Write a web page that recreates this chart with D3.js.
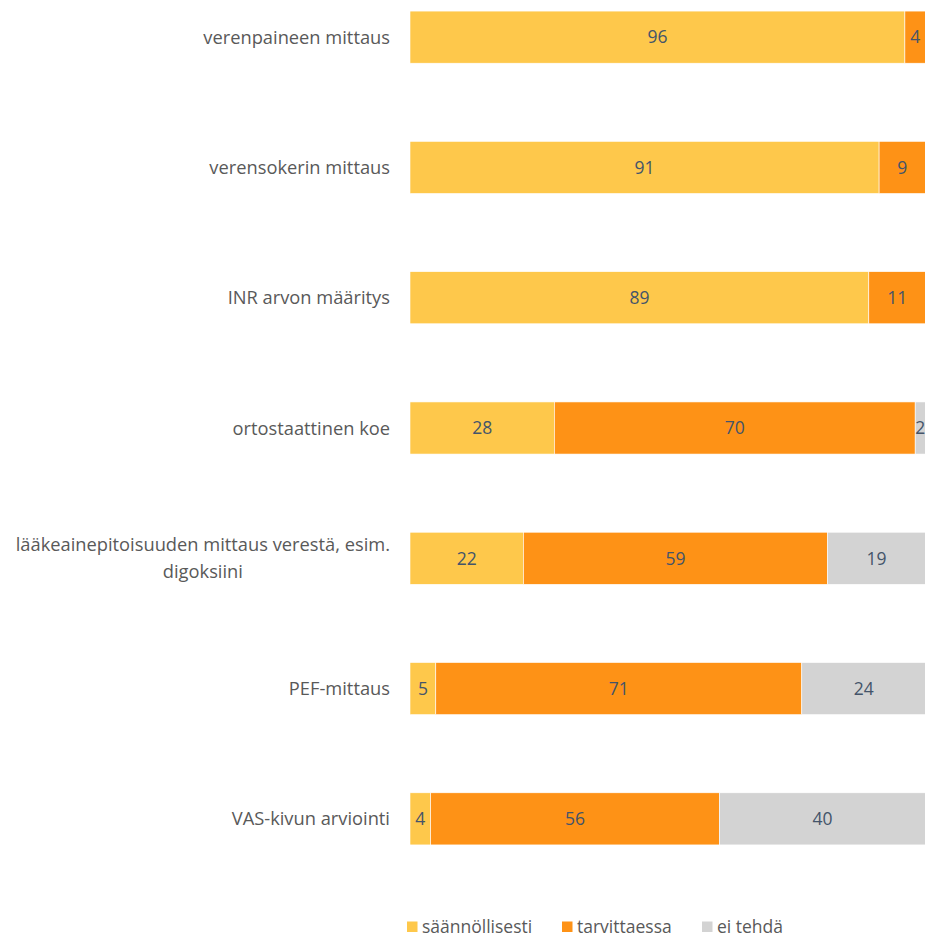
<!DOCTYPE html>
<html>
<head>
<meta charset="utf-8">
<script src="https://cdn.jsdelivr.net/npm/d3@7"></script>
<style>
  html, body { margin: 0; padding: 0; background: #fff; overflow: hidden; }
  svg { display: block; font-family: "Open Sans", sans-serif; }
</style>
</head>
<body>
<div id="chart"></div>
<script>
// kategoriat ja sarjat
const categories = [
  "verenpaineen mittaus",
  "verensokerin mittaus",
  "INR arvon määritys",
  "ortostaattinen koe",
  "lääkeainepitoisuuden mittaus verestä, esim.|digoksiini",
  "PEF-mittaus",
  "VAS-kivun arviointi"
];
const seriesNames = ["säännöllisesti", "tarvittaessa", "ei tehdä"];
const saannollisesti = [96, 91, 89, 28, 22, 5, 4];
const tarvittaessa   = [4, 9, 11, 70, 59, 71, 56];
const eiTehda        = [0, 0, 0, 2, 19, 24, 40];
const seriesColors = ["#FEC84B", "#FE9216", "#D3D3D3"];

const W = 925, H = 937;

const rows = categories.map((c, i) => ({
  cat: c,
  "säännöllisesti": saannollisesti[i],
  "tarvittaessa": tarvittaessa[i],
  "ei tehdä": eiTehda[i]
}));

const stack = d3.stack().keys(seriesNames);
const layers = stack(rows);

const svg = d3.select("#chart").append("svg")
  .attr("width", W).attr("height", H);

const x = d3.scaleLinear().domain([0, 100]).range([410, 925.5]);
const y = d3.scaleBand()
  .domain(categories)
  .range([-28, 884])
  .paddingInner(0.6)
  .paddingOuter(0.3);

const color = d3.scaleOrdinal().domain(seriesNames).range(seriesColors);

// palkit
const g = svg.append("g");
layers.forEach(layer => {
  g.append("g")
    .selectAll("rect")
    .data(layer.filter(d => d[1] > d[0]))
    .enter()
    .append("rect")
    .attr("x", d => x(d[0]))
    .attr("y", d => y(d.data.cat))
    .attr("width", d => x(d[1]) - x(d[0]))
    .attr("height", y.bandwidth())
    .attr("fill", color(layer.key))
    .attr("stroke", "#fff")
    .attr("stroke-width", 0.6);
});

// arvot palkkien sisään
layers.forEach(layer => {
  g.append("g")
    .selectAll("text")
    .data(layer.filter(d => d[1] > d[0]))
    .enter()
    .append("text")
    .attr("x", d => (x(d[0]) + x(d[1])) / 2)
    .attr("y", d => y(d.data.cat) + y.bandwidth() / 2)
    .attr("dy", "0.36em")
    .attr("text-anchor", "middle")
    .style("font-size", "17.5px")
    .style("fill", "#44546A")
    .text(d => d[1] - d[0]);
});

// kategoriat vasemmalle
const labelRight = 390;
categories.forEach(c => {
  const lines = c.split("|");
  const cy = y(c) + y.bandwidth() / 2;
  const lh = 27;
  const t = svg.append("text")
    .style("font-size", "18.3px")
    .style("fill", "#595959")
    .attr("text-anchor", "middle");
  const spans = lines.map((ln, i) => t.append("tspan")
    .attr("y", cy + (i - (lines.length - 1) / 2) * lh)
    .attr("dy", "0.36em")
    .text(ln));
  // rivit keskitetään keskenään, lohko oikealle tasattuna
  const maxW = d3.max(spans, s => s.node().getComputedTextLength());
  spans.forEach(s => s.attr("x", labelRight - maxW / 2));
});

// selite
const legend = svg.append("g");
const legendX = [407, 562, 702];
const ly = 926.5;
seriesNames.forEach((name, i) => {
  legend.append("rect")
    .attr("x", legendX[i]).attr("y", ly - 5)
    .attr("width", 10.5).attr("height", 10.5)
    .attr("fill", color(name));
  legend.append("text")
    .attr("x", legendX[i] + 15).attr("y", ly)
    .attr("dy", "0.36em")
    .style("font-size", "17.5px")
    .style("fill", "#595959")
    .text(name);
});
</script>
</body>
</html>
